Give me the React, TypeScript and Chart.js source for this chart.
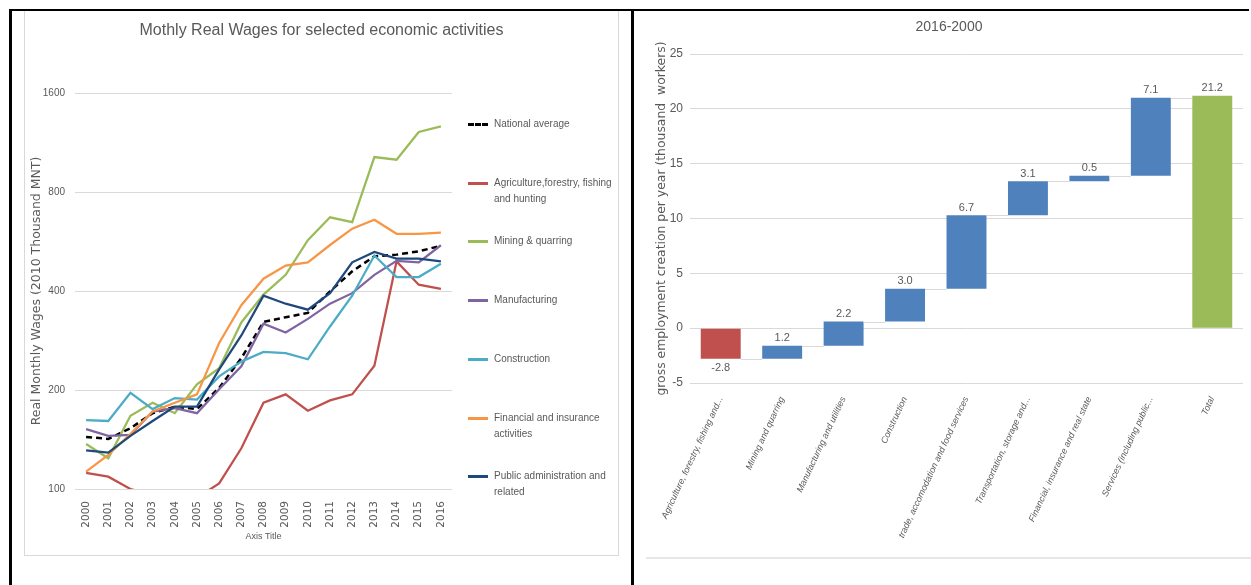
import React, { useEffect, useRef } from 'react';
import { Chart, registerables } from 'chart.js';

Chart.register(...registerables);

// ---------- Left chart data ----------
const years = ['2000', '2001', '2002', '2003', '2004', '2005', '2006', '2007', '2008', '2009', '2010', '2011', '2012', '2013', '2014', '2015', '2016'];
const nationalAverage = [144, 142, 153, 170, 178, 175, 203, 250, 322, 333, 343, 399, 459, 510, 516, 528, 549];
const agriculture = [112, 109, 100, 96, 99, 94, 104, 133, 183, 194, 173, 186, 194, 237, 492, 418, 406];
const mining = [137, 124, 167, 183, 170, 208, 233, 321, 390, 448, 571, 670, 648, 1022, 1003, 1218, 1267];
const manufacturing = [152, 145, 146, 172, 176, 170, 201, 236, 318, 299, 329, 366, 394, 448, 494, 489, 551];
const construction = [162, 161, 196, 175, 189, 187, 220, 244, 261, 259, 248, 312, 387, 513, 441, 441, 484];
const financial = [113, 127, 147, 172, 183, 194, 278, 362, 436, 478, 489, 552, 619, 659, 597, 597, 602];
const publicAdmin = [131, 129, 145, 161, 178, 178, 231, 293, 387, 366, 351, 394, 489, 526, 502, 502, 492];
const seriesValues = [nationalAverage, agriculture, mining, manufacturing, construction, financial, publicAdmin];
const seriesLabels = [
  'National average',
  'Agriculture,forestry, fishing\nand hunting',
  'Mining & quarring',
  'Manufacturing',
  'Construction',
  'Financial and insurance\nactivities',
  'Public administration and\nrelated',
];
const seriesColors = ['#000000', '#C0504D', '#9BBB59', '#8064A2', '#4BACC6', '#F79646', '#1F497D'];
const wageTicks = [100, 200, 400, 800, 1600];

// ---------- Right chart data ----------
const sectors = [
  'Agriculture, forestry, fishing and...',
  'Mining and quarring',
  'Manufacturing and utilities',
  'Construction',
  'trade, accomodation and food services',
  'Transportation, storage and...',
  'Financial, insurance and real state',
  'Services (including public...',
  'Total',
];
const sectorChange = [-2.8, 1.2, 2.2, 3.0, 6.7, 3.1, 0.5, 7.1];
const totalChange = 21.2;
const changeTickMin = -5;
const changeTickMax = 25;
const changeTickStep = 5;

const NARROW = "'Liberation Sans Narrow', 'Liberation Sans', Arial, sans-serif";
const WIDE = "'DejaVu Sans', Verdana, sans-serif";
const GREY = '#595959';

function WagesChart() {
  const ref = useRef<HTMLCanvasElement>(null);
  useEffect(() => {
    const chart = new Chart(ref.current!, {
      type: 'line',
      data: {
        labels: years,
        datasets: seriesValues.map((vals, i) => ({
          label: seriesLabels[i].replace('\n', ' '),
          data: vals,
          borderColor: seriesColors[i],
          backgroundColor: seriesColors[i],
          borderWidth: i === 0 ? 2.5 : 2.25,
          borderDash: i === 0 ? [6, 4] : [],
          pointRadius: 0,
          tension: 0,
          fill: false,
          order: seriesValues.length - i,
        })),
      },
      options: {
        responsive: false,
        animation: false,
        layout: { padding: { left: 0, right: 0, top: 0, bottom: 0 } },
        plugins: {
          legend: { display: false },
          tooltip: { enabled: false },
          title: {
            display: true,
            text: 'Mothly Real Wages for selected economic activities',
            color: GREY,
            font: { family: NARROW, size: 16, weight: 'normal' },
            padding: { top: 10.4, bottom: 52.4 },
          },
        },
        scales: {
          x: {
            offset: true,
            grid: { display: false },
            border: { display: false },
            afterFit: (s: any) => {
              s.paddingLeft = 0;
              s.paddingRight = 166;
              s.height = 66;
            },
            ticks: {
              color: GREY,
              font: { family: WIDE, size: 10.5 },
              minRotation: 90,
              maxRotation: 90,
              autoSkip: false,
              padding: 4,
            },
            title: {
              display: true,
              text: 'Axis Title',
              color: GREY,
              font: { family: NARROW, size: 9 },
              padding: { top: 2, bottom: 12.6 },
            },
          },
          y: {
            type: 'logarithmic',
            min: 100,
            max: 1600,
            afterBuildTicks: (scale: any) => {
              scale.ticks = wageTicks.map((v) => ({ value: v }));
            },
            afterFit: (s: any) => {
              s.width = 50;
            },
            grid: { color: '#d9d9d9', drawTicks: false },
            border: { display: false },
            ticks: {
              color: GREY,
              font: { family: NARROW, size: 10 },
              padding: 10,
              callback: (v: any) => String(v),
            },
            title: {
              display: true,
              text: 'Real Monthly Wages (2010 Thousand MNT)',
              color: GREY,
              font: { family: WIDE, size: 12.5 },
              padding: { top: 4.5, bottom: 0 },
            },
          },
        },
      },
    });
    return () => chart.destroy();
  }, []);
  return <canvas ref={ref} width={593} height={544} style={{ width: 593, height: 544, display: 'block' }} />;
}

function EmploymentChart() {
  const ref = useRef<HTMLCanvasElement>(null);
  useEffect(() => {
    const ranges: number[][] = [];
    let running = 0;
    sectorChange.forEach((d) => {
      ranges.push([running, running + d]);
      running += d;
    });
    ranges.push([0, totalChange]);
    const values = [...sectorChange, totalChange];
    const colors = values.map((v, i) => (i === values.length - 1 ? '#9BBB59' : v < 0 ? '#C0504D' : '#4F81BD'));

    const extras = {
      id: 'waterfallExtras',
      afterDatasetsDraw(c: any) {
        const meta = c.getDatasetMeta(0);
        const yScale = c.scales.y;
        const ctx = c.ctx;
        ctx.save();
        ctx.strokeStyle = '#d9d9d9';
        ctx.lineWidth = 1;
        for (let i = 0; i < meta.data.length - 1; i++) {
          const a = meta.data[i];
          const b = meta.data[i + 1];
          const yy = Math.round(yScale.getPixelForValue(ranges[i][1])) + 0.5;
          ctx.beginPath();
          ctx.moveTo(a.x + a.width / 2, yy);
          ctx.lineTo(b.x - b.width / 2, yy);
          ctx.stroke();
        }
        ctx.fillStyle = GREY;
        ctx.font = `11px ${NARROW}`;
        ctx.textAlign = 'center';
        meta.data.forEach((el: any, i: number) => {
          const top = Math.min(el.y, el.base);
          const bottom = Math.max(el.y, el.base);
          const v = values[i];
          if (v >= 0) {
            ctx.textBaseline = 'bottom';
            ctx.fillText(v.toFixed(1), el.x, top - 2);
          } else {
            ctx.textBaseline = 'top';
            ctx.fillText(v.toFixed(1), el.x, bottom + 4);
          }
        });
        ctx.restore();
      },
    };

    const chart = new Chart(ref.current!, {
      type: 'bar',
      data: {
        labels: sectors,
        datasets: [
          {
            label: 'change',
            data: ranges as any,
            backgroundColor: colors,
            borderWidth: 0,
            barPercentage: 0.65,
            categoryPercentage: 1,
          },
        ],
      },
      plugins: [extras],
      options: {
        responsive: false,
        animation: false,
        layout: { padding: { left: 10, right: 5, top: 0, bottom: 0 } },
        plugins: {
          legend: { display: false },
          tooltip: { enabled: false },
          title: {
            display: true,
            text: '2016-2000',
            color: GREY,
            font: { family: NARROW, size: 14, weight: 'normal' },
            padding: { top: 8, bottom: 18.2 },
          },
        },
        scales: {
          x: {
            grid: { display: false },
            border: { display: false },
            afterFit: (s: any) => {
              s.paddingLeft = 0;
              s.paddingRight = 0;
              s.height = 174;
            },
            ticks: {
              color: GREY,
              font: { family: NARROW, size: 9, style: 'italic' },
              minRotation: 65,
              maxRotation: 65,
              autoSkip: false,
              padding: 4,
            },
          },
          y: {
            min: changeTickMin,
            max: changeTickMax,
            afterFit: (s: any) => {
              s.width = 35;
            },
            ticks: { stepSize: changeTickStep, color: GREY, font: { family: NARROW, size: 12 }, padding: 7 },
            grid: { color: '#d9d9d9', drawTicks: false },
            border: { display: false },
            title: {
              display: true,
              text: 'gross employment creation per year (thousand  workers)',
              color: GREY,
              font: { family: WIDE, size: 12.4 },
              padding: { top: -0.4, bottom: 0 },
            },
          },
        },
      },
    });
    return () => chart.destroy();
  }, []);
  return <canvas ref={ref} width={603} height={546} style={{ width: 603, height: 546, display: 'block' }} />;
}

export default function App() {
  return (
    <div style={{ position: 'fixed', left: 0, top: 0, width: 1251, height: 585, background: '#fff', overflow: 'hidden' }}>
      {/* left chart frame */}
      <div style={{ position: 'absolute', left: 24, top: 10, width: 593, height: 544, border: '1px solid #d9d9d9' }} />
      <div style={{ position: 'absolute', left: 25, top: 11 }}>
        <WagesChart />
      </div>
      {/* legend */}
      {seriesLabels.map((lab, i) => (
        <div
          key={i}
          style={{
            position: 'absolute',
            left: 468,
            top: 116 + i * 58.7,
            display: 'flex',
            alignItems: 'flex-start',
            fontFamily: NARROW,
            fontSize: 10,
            color: GREY,
            lineHeight: '16px',
          }}
        >
          <div style={{ width: 20, height: 16, position: 'relative', marginRight: 6 }}>
            <div
              style={{
                position: 'absolute',
                left: 0,
                top: 7,
                width: 20,
                height: 0,
                borderTop: i === 0 ? `3px dashed ${seriesColors[i]}` : `3px solid ${seriesColors[i]}`,
              }}
            />
          </div>
          <div style={{ whiteSpace: 'pre-line' }}>{lab}</div>
        </div>
      ))}
      {/* right chart */}
      <div style={{ position: 'absolute', left: 645, top: 11 }}>
        <EmploymentChart />
      </div>
      <div style={{ position: 'absolute', left: 646, top: 557, width: 605, height: 2, background: '#e6e6e6' }} />
      {/* black frame lines */}
      <div style={{ position: 'absolute', left: 9, top: 9, width: 1240, height: 2, background: '#000' }} />
      <div style={{ position: 'absolute', left: 9, top: 9, width: 3, height: 576, background: '#000' }} />
      <div style={{ position: 'absolute', left: 631, top: 9, width: 2.5, height: 576, background: '#000' }} />
    </div>
  );
}
